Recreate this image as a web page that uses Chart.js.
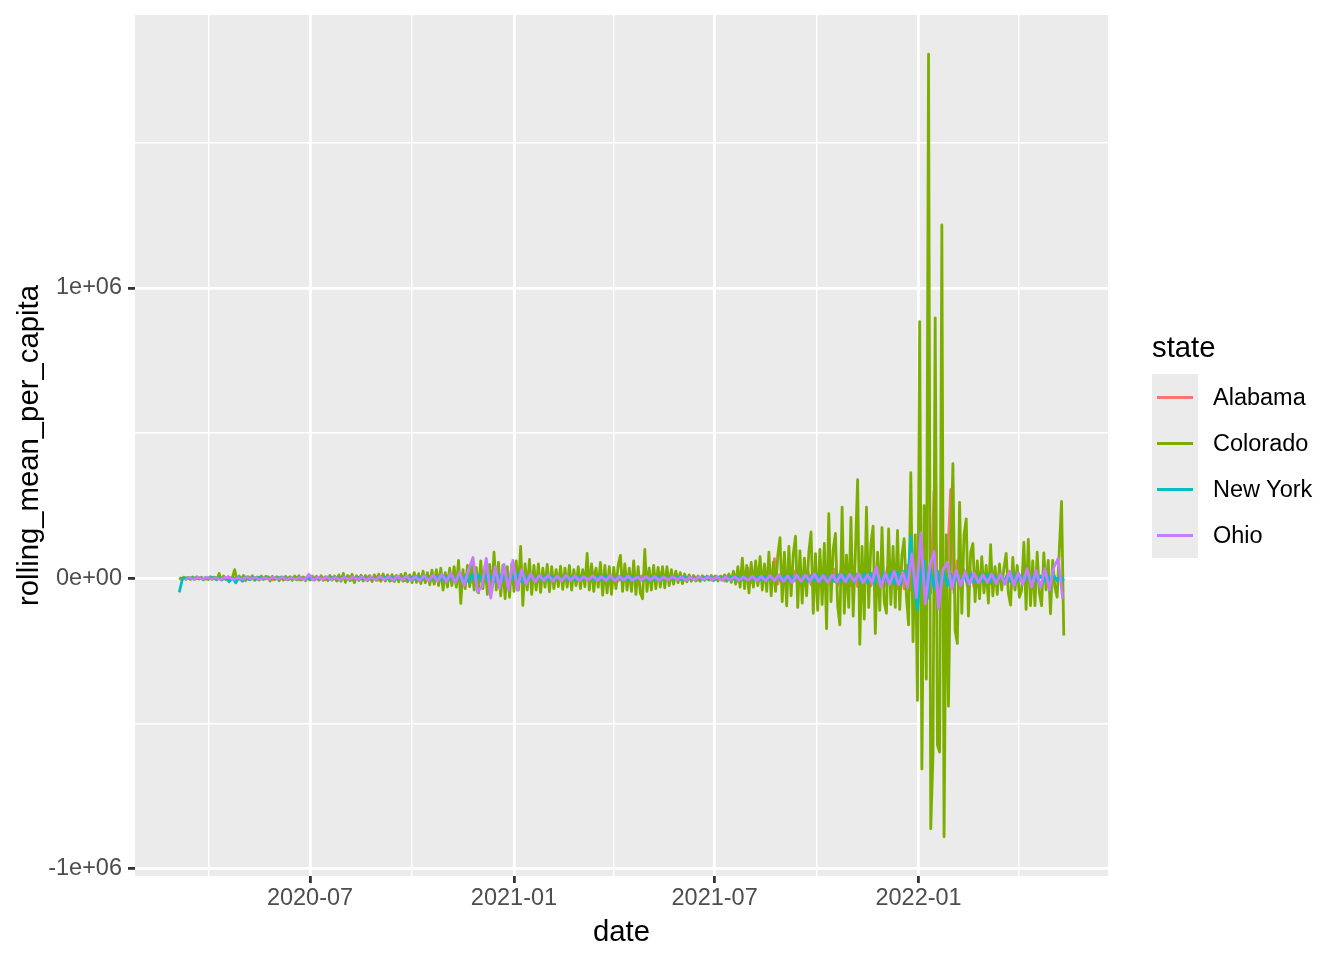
<!DOCTYPE html>
<html>
<head>
<meta charset="utf-8">
<script src="https://cdn.jsdelivr.net/npm/chart.js@4.4.1/dist/chart.umd.min.js"></script>
<style>
  body { margin: 0; background: #fff; }
  #wrap { position: relative; width: 1344px; height: 960px; font-family: "Liberation Sans", Arial, sans-serif; }
  #chart { position: absolute; left: 0; top: 0; }
  .ltitle { position: absolute; left: 1152px; top: 332px; font-size: 29.3px; line-height: 29.3px; color: #000; }
  .lkeys { position: absolute; left: 1152px; top: 374px; width: 46px; height: 184px; background: #EBEBEB; }
  .lline { position: absolute; left: 1157px; width: 36px; height: 2.8px; }
  .llabel { position: absolute; left: 1213px; font-size: 23.5px; line-height: 23.5px; color: #000; }
</style>
</head>
<body>
<div id="wrap">
  <canvas id="chart" width="1344" height="960"></canvas>
</div>
<script>
// --- DATA (in thousands) ---
const STATES = ['Alabama', 'Colorado', 'New York', 'Ohio'];
const COLORS = ['#F8766D', '#7CAE00', '#00BFC4', '#C77CFF'];

// Alabama: every 3 days from 2020-03-05
const alabamaStart = '2020-03-05';
const alabamaStep = 3;
const alabamaK = [
  0, 1, -2, 2, -1, 3, -2, 1, -3, 2, -2, 3, -1, 2, -3, 4, -2, 3, -3, 2,
  -3, 4, -2, 3, -4, 3, -2, 4, -5, 3, -3, 5, -4, 3, -3, 4, -5, 4, -3, 5,
  -4, 5, -6, 4, -5, 6, -4, 5, -6, 6, -5, 7, -6, 5, -7, 6, -5, 8, -6, 7,
  -6, 8, -7, 6, -8, 7, -6, 9, -8, 7, -7, 9, -8, 8, -9, 7, -8, 10, -9, 8,
  -9, 12, -10, 11, -12, 14, -11, 10, -13, 12, -15, 11, -12, 14, -10, 12, -11, 13, -12, 10,
  -12, 10, -9, 11, -10, 12, -9, 10, -11, 9, -10, 8, -9, 10, -8, 9, -9, 8, -7, 9,
  -8, 9, -7, 8, -9, 25, -10, 8, -7, 9, -8, 7, -9, 10, -8, 7, -7, 8, -6, 8,
  -7, 8, -6, 7, -8, 20, -8, 7, -6, 6, -7, 8, -6, 5, -5, 6, -6, 5, -5, 6,
  -6, 7, -7, 8, -9, 10, -8, 12, -10, 14, -12, 35, -15, 16, -18, 20, -12, 22, -15, 68,
  -20, 18, -22, 20, -18, 25, -20, 22, -24, 28, -22, 25, -20, 30, -25, 28, -22, 32, -25, 30,
  -28, 30, -25, 35, -28, 32, -30, 35, -26, 30, -32, 35, -30, 38, -33, 40, -35, 38, -36, 45,
  -40, 50, -45, 48, -42, 40, -50, 300, -60, 45, -40, 50, 306, -50, 60, -35, 30, -28, 25, -30,
  -25, 22, -20, 18, -18, 15, -16, 14, -15, 12, -13, 12, -12, 10, -11, 10, -10, 9, -9, 8,
  -8, 8, -7, 7, -6, 6
];

// Colorado: every 2 days from 2020-03-05
const coloradoStart = '2020-03-05';
const coloradoStep = 2;
const coloradoK = [
  2, -3, 4, -2, 3, -4, 5, -3, 6, -2, 4, -5, 3, -4, 6, -3, 4, -5, 17, -6,
  8, -4, 6, -5, 4, 30, -6, 8, -5, 10, -8, 6, -5, 9, -7, 5, -6, 8, -4, 7,
  5, -9, 7, -4, 6, -8, 5, -6, 7, -5, 6, -7, 8, -5, 9, -6, 5, -8, 7, -6,
  8, -6, 7, -5, 9, -7, 6, -8, 10, -6, 8, -9, 12, -10, 17, -14, 10, -8, 14, -15,
  9, -7, 11, -9, 10, -8, 9, -11, 12, -7, 14, -10, 15, -9, 12, -10, 13, -11, 10, -12,
  14, -10, 18, -12, 12, -15, 20, -14, 16, -18, 25, -15, 20, -22, 28, -20, 30, -25, 35, -40,
  20, -30, 35, -25, 40, -30, 62, -86, 30, -35, 45, -28, 50, -40, 38, -50, 60, -35, 45, -55,
  48, -45, 90, -40, 55, -60, 45, -70, 40, -65, 50, -45, 60, -40, 110, -93, 50, -40, 65, -55,
  45, -40, 50, -48, 35, -30, 48, -46, 40, -35, 30, -28, 42, -38, 35, -30, 45, -40, 30, -25,
  40, -35, 30, -28, 86, -40, 50, -45, 35, -30, 55, -58, 45, -50, 40, -55, 38, -35, 45, 79,
  -45, 50, -40, 35, -45, 60, -55, 40, -50, -70, 100, -45, 35, -40, 45, -35, 38, -30, 40, -33,
  40, -25, 30, -20, 25, -15, 20, -18, 15, -12, 12, -10, 10, -9, 8, -10, 9, -7, 8, -6,
  10, -8, 8, -9, 7, -6, 12, -10, 15, -14, 25, -20, 40, -30, 70, -35, 45, -50, 55, -30,
  60, -25, 75, -40, 50, -45, 90, -60, 55, -45, 80, 140, -80, 90, -95, 110, -60, 85, 145, -100,
  95, -85, 70, -60, 90, 160, -120, 85, -110, 100, -90, 120, -173, 223, -80, 100, 155, -95, -160, 245,
  -120, 80, -100, 210, -130, 90, 340, -227, 110, -140, 245, -100, 120, 180, -190, 90, -110, 175, -80, -120,
  170, -90, 110, -100, 165, -107, 80, 137, -60, -160, 364, -218, 150, -420, 884, -656, 250, -347, 1805, -862,
  -608, 897, -574, -598, 1217, -890, 150, -440, 100, 395, -180, -224, 262, -120, 150, 205, -130, 90, 120, -80,
  60, -70, 75, -50, 45, -85, 116, -60, 40, -55, 50, -40, 35, 86, -50, -92, 72, -40, 45, -65,
  -40, 124, -107, 134, -94, 60, -94, 90, -50, -94, 88, -40, 62, -122, 62, -30, -65, 100, 265, -197
];

// New York: every 3 days from 2020-03-05
const newYorkStart = '2020-03-05';
const newYorkStep = 3;
const newYorkK = [
  -48, 0, 2, -1, 3, -2, 2, -3, 3, -2, 4, -3, 2, -4, 3, -12, 2, -15, 4, -10,
  5, -4, 3, -3, 4, -2, 3, -3, 2, -2, 3, -2, 2, -3, 2, -2, 3, -2, 2, -3,
  2, -3, 3, -2, 2, -3, 3, -2, 2, -2, 3, -3, 2, -2, 3, -2, 2, -3, 3, -2,
  3, -2, 4, -3, 3, -4, 5, -4, 6, -5, 5, -4, 6, -5, 7, -6, 6, -5, 7, -6,
  8, -6, 10, -8, 12, -10, 9, -12, 14, -10, 12, -9, 13, -11, 10, -12, 14, -10, 12, -9,
  12, -8, 17, -12, 10, -8, 8, -6, 7, -5, 8, -6, 7, -5, 6, -5, 7, -6, 5, -5,
  6, -5, 7, -6, 5, -7, 6, -5, 8, -6, 6, -5, 7, -6, 5, -6, 6, -5, 7, -5,
  5, -6, 4, -5, 6, -4, 5, -3, 4, -3, 4, -4, 5, -3, 4, -4, 3, -3, 4, -3,
  3, -4, 5, -3, 4, -5, 6, -4, 5, -6, 5, -5, 6, -5, 7, -6, 6, -5, 7, -6,
  7, -6, 8, -7, 9, -8, 10, -9, 12, -10, 9, -8, 11, -10, 12, -9, 10, -11, 13, -10,
  12, -10, 14, -12, 15, -13, 16, -14, 18, -20, 15, -14, 18, -16, 20, -18, 22, -20, 25, -22,
  145, -30, -107, 20, 60, -70, 30, -35, 25, -30, 20, -25, 15, -20, 18, -15, 12, -14, 15, -12,
  -15, 12, -10, 14, -12, 10, -9, 11, -10, 9, -10, 12, -9, 10, -11, 9, -8, 10, -9, 8,
  -10, 12, -9, 10, -8, 9, -8
];

// Ohio: every 4 days from 2020-03-10
const ohioStart = '2020-03-10';
const ohioStep = 4;
const ohioK = [
  -6, 2, -3, 3, -2, 4, -3, 2, -4, 3,
  3, -4, 2, -3, 4, -2, 3, -4, 2,
  -3, 4, -2, 3, -4, 2, -3, 3, -5, 14,
  -6, 4, -3, 5, -4, 3, -5, 4, -3, 5,
  -4, 5, -6, 4, -5, 6, -4, 5, -6, 7,
  -5, 8, -7, 6, -8, 10, -9, 12, -10, 15,
  -12, 18, -15, 22, -25, 30, 72, -46, -30, 69,
  -68, 40, -35, 48, -40, 62, -40, 30, -20, 15,
  -12, 10, -8, 12, -10, 8, -9, 11, -7, 9,
  -8, 7, -6, 9, -7, 6, -8, 10, -9, 7,
  -6, 8, -7, 5, -6, 7, -5, 6, -7, 5,
  -5, 6, -4, 5, -6, 4, -5, 6, -4, 5,
  -4, 5, -6, 4, -5, 6, -7, 5, -6, 7,
  -8, 7, -9, 10, -8, 12, -10, 9, -15, 11,
  -10, 12, -9, 15, -12, 10, -14, 12, -11, 13,
  -12, 14, -10, 16, -15, 12, -14, 40, -30, 18,
  -20, 25, -22, 20, -30, 85, -65, 157, -88, 40,
  93, -104, 30, 55, -35, 28, -25, 22, -20, 18,
  -15, 12, -14, 15, -18, 15, -20, 25, -25, 20,
  -20, 34, -30, 28, -32, 33, -40, 38, 69, -70
];

// axis ticks
const xMajorDates = ['2020-07-01', '2021-01-01', '2021-07-01', '2022-01-01'];
const xMajorLabels = ['2020-07', '2021-01', '2021-07', '2022-01'];
const xMinorDates = ['2020-04-01', '2020-10-01', '2021-04-01', '2021-10-01', '2022-04-01'];
const yMajor = [-1e6, 0, 1e6];
const yMajorLabels = ['-1e+06', '0e+00', '1e+06'];
const yMinor = [-5e5, 5e5, 1.5e6];

// --- HELPERS ---
const DAY0 = Date.UTC(2020, 0, 1);
function dayNum(s) {
    return (Date.parse(s + 'T00:00:00Z') - DAY0) / 86400000;
}

function toPoints(start, step, valuesK) {
    const d0 = dayNum(start);
    return valuesK.map((v, i) => ({ x: d0 + i * step, y: v * 1000 }));
}

const series = [
    toPoints(alabamaStart, alabamaStep, alabamaK),
    toPoints(coloradoStart, coloradoStep, coloradoK),
    toPoints(newYorkStart, newYorkStep, newYorkK),
    toPoints(ohioStart, ohioStep, ohioK)
];

// ggplot-style 5% expansion of the data range
const allPts = series.flat();
const xs = allPts.map(p => p.x), ys = allPts.map(p => p.y);
const xLo = Math.min(...xs), xHi = Math.max(...xs);
const yLo = Math.min(...ys), yHi = Math.max(...ys);
const xPad = (xHi - xLo) * 0.05, yPad = (yHi - yLo) * 0.05;

const xMajorDays = xMajorDates.map(dayNum);
const xMinorDays = xMinorDates.map(dayNum);

const isXMajor = v => xMajorDays.includes(v);
const isYMajor = v => yMajor.includes(v);

// --- CHART ---
const panelBg = {
    id: 'panelBg',
    beforeDraw(chart) {
        const { ctx, chartArea: a } = chart;
        ctx.save();
        ctx.fillStyle = '#EBEBEB';
        ctx.fillRect(a.left, a.top, a.right - a.left, a.bottom - a.top);
        ctx.restore();
    }
};

Chart.defaults.font.family = '"Liberation Sans", Arial, sans-serif';

const datasets = STATES.map((name, i) => ({
    label: name,
    data: series[i],
    borderColor: COLORS[i],
    borderWidth: 2.8,
    borderJoinStyle: 'round',
    pointRadius: 0,
    fill: false,
    tension: 0,
    order: STATES.length - i // Ohio drawn last (on top)
}));

new Chart(document.getElementById('chart'), {
    type: 'line',
    data: { datasets: datasets },
    plugins: [panelBg],
    options: {
        responsive: false,
        animation: false,
        events: [],
        layout: { padding: { left: 0, top: 15, right: 236, bottom: 0 } },
        plugins: { legend: { display: false }, tooltip: { enabled: false } },
        scales: {
            x: {
                type: 'linear',
                min: xLo - xPad,
                max: xHi + xPad,
                afterBuildTicks: scale => {
                    scale.ticks = [...xMinorDays, ...xMajorDays].sort((a, b) => a - b).map(v => ({ value: v }));
                },
                afterFit: scale => {
                    scale.height = 84;
                    scale.paddingLeft = 0;
                    scale.paddingRight = 0;
                },
                border: { display: false },
                grid: {
                    color: '#FFFFFF',
                    lineWidth: c => isXMajor(c.tick.value) ? 2.8 : 1.4,
                    tickColor: c => isXMajor(c.tick.value) ? '#333333' : 'rgba(0,0,0,0)',
                    tickWidth: 2.8,
                    tickLength: 7
                },
                ticks: {
                    autoSkip: false,
                    maxRotation: 0,
                    padding: 1,
                    color: '#4D4D4D',
                    font: { size: 23.5 },
                    callback: v => {
                        const k = xMajorDays.indexOf(v);
                        return k >= 0 ? xMajorLabels[k] : '';
                    }
                },
                title: {
                    display: true,
                    text: 'date',
                    color: '#000000',
                    font: { size: 29.3 },
                    padding: { top: 0, bottom: 10 }
                }
            },
            y: {
                type: 'linear',
                min: yLo - yPad,
                max: yHi + yPad,
                afterBuildTicks: scale => {
                    scale.ticks = [...yMinor, ...yMajor].sort((a, b) => a - b).map(v => ({ value: v }));
                },
                afterFit: scale => {
                    scale.width = 135;
                    scale.paddingTop = 0;
                    scale.paddingBottom = 0;
                },
                border: { display: false },
                grid: {
                    color: '#FFFFFF',
                    lineWidth: c => isYMajor(c.tick.value) ? 2.8 : 1.4,
                    tickColor: c => isYMajor(c.tick.value) ? '#333333' : 'rgba(0,0,0,0)',
                    tickWidth: 2.8,
                    tickLength: 7
                },
                ticks: {
                    autoSkip: false,
                    padding: 6,
                    color: '#4D4D4D',
                    font: { size: 23.5 },
                    callback: v => {
                        const k = yMajor.indexOf(v);
                        return k >= 0 ? yMajorLabels[k] : '';
                    }
                },
                title: {
                    display: true,
                    text: 'rolling_mean_per_capita',
                    color: '#000000',
                    font: { size: 29.3 },
                    padding: { top: 12, bottom: 0 }
                }
            }
        }
    }
});

// --- LEGEND (ggplot style, at the right) ---
const wrap = document.getElementById('wrap');
let html = '<div class="ltitle">state</div><div class="lkeys"></div>';
STATES.forEach((name, i) => {
    html += `<div class="lline" style="top:${396 + 46 * i}px;background:${COLORS[i]}"></div>`;
    html += `<div class="llabel" style="top:${386 + 46 * i}px">${name}</div>`;
});
wrap.insertAdjacentHTML('beforeend', html);
</script>
</body>
</html>
